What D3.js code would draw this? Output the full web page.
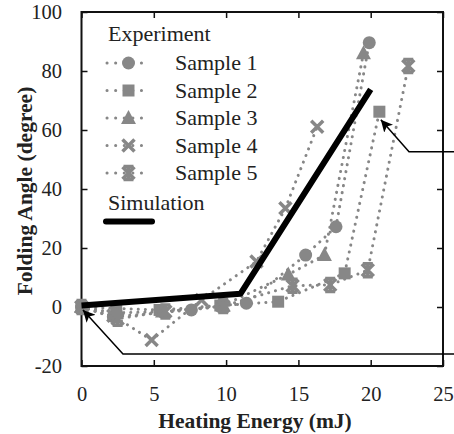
<!DOCTYPE html>
<html>
<head>
<meta charset="utf-8">
<script src="https://cdn.jsdelivr.net/npm/d3@7"></script>
<style>
  body { margin: 0; background: #fff; }
  svg { display: block; }
</style>
</head>
<body>
<script>
// data: [heating energy (mJ), folding angle (deg)]
var sample1 = [[0,0],[2.2,-3.3],[7.6,-1],[11.4,1.3],[15.5,17.6],[17.6,27.2],[19.9,89.6]];
var sample2 = [[0,0],[2.4,-0.5],[5.4,-1],[9.6,0.5],[13.6,1.8],[18.2,11.4],[20.6,66.2]];
var sample3 = [[0,0],[2.3,-2],[5.6,-1.5],[9.8,0.5],[14.3,11],[16.8,17.6],[19.5,86]];
var sample4 = [[0,0],[2.2,-3],[4.85,-11.2],[8.3,2.4],[12.1,15.4],[14.1,33.5],[16.3,61.1]];
var sample5 = [[0,0],[2.5,-4],[5.8,-1.5],[9.8,0.3],[14.6,7.2],[17.2,7.5],[19.8,12.5],[22.6,81.7]];
var simulation = [[0,0.5],[11,4.5],[20,73.8]];

var sampleNames = ["Sample 1","Sample 2","Sample 3","Sample 4","Sample 5"];
var markers = ["circle","square","triangle","cross","star"];
var xTicks = [0,5,10,15,20,25];
var yTicks = [-20,0,20,40,60,80,100];

// annotation arrows (data coords), tip first
var arrow1 = [[20.7,63.5],[22.65,52.6],[26.5,52.6]];
var arrow2 = [[0.1,-1],[2.87,-15.9],[26.5,-15.9]];

var W = 454, H = 434;
var grey = "#878787";
var FONT = "Liberation Serif";

var svg = d3.select("body").append("svg")
    .attr("width", W)
    .attr("height", H)
    .attr("font-family", FONT);

var x = d3.scaleLinear().domain([0,25]).range([81.5,443]);
var y = d3.scaleLinear().domain([-20,100]).range([366,12]);

var plain = function(d){ return String(d); };   // keep a hyphen for -20

//axes, ticks pointing inward
svg.append("g")
    .attr("transform","translate(0,366)")
    .call(d3.axisBottom(x).tickValues(xTicks).tickSize(-6).tickPadding(20).tickFormat(plain))
    .call(function(g){ g.select(".domain").remove(); });
svg.append("g")
    .attr("transform","translate(0,12)")
    .call(d3.axisTop(x).tickValues(xTicks).tickSize(-6).tickFormat(""))
    .call(function(g){ g.select(".domain").remove(); });
svg.append("g")
    .attr("transform","translate(81.5,0)")
    .call(d3.axisLeft(y).tickValues(yTicks).tickSize(-6).tickPadding(19.5).tickFormat(plain))
    .call(function(g){ g.select(".domain").remove(); });
svg.append("g")
    .attr("transform","translate(443,0)")
    .call(d3.axisRight(y).tickValues(yTicks).tickSize(-6).tickFormat(""))
    .call(function(g){ g.select(".domain").remove(); });

svg.selectAll("g").attr("font-family", FONT).attr("font-size", null);
svg.selectAll(".tick line").attr("stroke","#111").attr("stroke-width",1.5);
svg.selectAll(".tick text")
    .attr("font-family", FONT)
    .attr("font-size", 20.5)
    .attr("fill","#222");

//frame
svg.append("rect")
    .attr("x",x(0)).attr("y",y(100))
    .attr("width",x(25)-x(0)).attr("height",y(-20)-y(100))
    .attr("fill","none").attr("stroke","#111").attr("stroke-width",2);

//axis titles
svg.append("text")
    .attr("x",255).attr("y",428)
    .attr("text-anchor","middle")
    .attr("font-family", FONT)
    .attr("font-size",21.5).attr("font-weight","bold")
    .attr("fill","#222")
    .text("Heating Energy (mJ)");
svg.append("text")
    .attr("transform","translate(32,191) rotate(-90)")
    .attr("text-anchor","middle")
    .attr("font-family", FONT)
    .attr("font-size",21.5).attr("font-weight","bold")
    .attr("fill","#222")
    .text("Folding Angle (degree)");

//marker shapes
function drawMarker(g, type) {
    if (type == "circle") {
        g.append("circle").attr("r",6.5).attr("fill",grey);
    } else if (type == "square") {
        g.append("rect").attr("x",-6).attr("y",-6).attr("width",12).attr("height",12).attr("fill",grey);
    } else if (type == "triangle") {
        g.append("path").attr("d","M0,-8L7.5,6L-7.5,6Z").attr("fill",grey);
    } else if (type == "cross") {
        g.append("path").attr("d","M-6,-6L6,6M6,-6L-6,6")
            .attr("stroke",grey).attr("stroke-width",3.5).attr("fill","none");
    } else {
        g.append("path").attr("d","M-6,-6L6,6M6,-6L-6,6M0,-7L0,7M-5,-6.5L5,-6.5M-5,6.5L5,6.5")
            .attr("stroke",grey).attr("stroke-width",3.5).attr("fill","none");
    }
}

var line = d3.line()
    .x(function(d){ return x(d[0]); })
    .y(function(d){ return y(d[1]); });

var samples = [sample1, sample2, sample3, sample4, sample5];

//dotted lines first
samples.forEach(function(s){
    svg.append("path")
        .attr("d", line(s))
        .attr("fill","none")
        .attr("stroke",grey)
        .attr("stroke-width",3)
        .attr("stroke-linecap","round")
        .attr("stroke-dasharray","0.1 7");
});

//markers
samples.forEach(function(s, i){
    svg.selectAll(".m"+i)
        .data(s)
        .enter().append("g")
        .attr("class","m"+i)
        .attr("transform", function(d){ return "translate(" + x(d[0]) + "," + y(d[1]) + ")"; })
        .each(function(){ drawMarker(d3.select(this), markers[i]); });
});

//simulation line
svg.append("path")
    .attr("d", line(simulation))
    .attr("fill","none")
    .attr("stroke","#000")
    .attr("stroke-width",6)
    .attr("stroke-linejoin","round");

//annotation arrows
var defs = svg.append("defs");
defs.append("marker")
    .attr("id","head")
    .attr("viewBox","0 0 10 10")
    .attr("refX",10).attr("refY",5)
    .attr("markerWidth",12).attr("markerHeight",12)
    .attr("markerUnits","userSpaceOnUse")
    .attr("orient","auto")
    .append("path").attr("d","M0,0L10,5L0,10L2.5,5Z").attr("fill","#000");

[arrow1, arrow2].forEach(function(a){
    svg.append("path")
        .attr("d", line(a.slice().reverse()))
        .attr("fill","none")
        .attr("stroke","#000")
        .attr("stroke-width",1.5)
        .attr("marker-end","url(#head)");
});

//legend
var legend = svg.append("g");
legend.append("text")
    .attr("x",108).attr("y",41)
    .attr("font-family", FONT).attr("font-size",22).attr("fill","#222")
    .text("Experiment");

var rowY = [63, 90.5, 118, 145.5, 173];
sampleNames.forEach(function(name, i){
    legend.append("line")
        .attr("x1",107).attr("x2",150)
        .attr("y1",rowY[i]).attr("y2",rowY[i])
        .attr("stroke",grey).attr("stroke-width",3)
        .attr("stroke-linecap","round")
        .attr("stroke-dasharray","0.1 8.5");
    drawMarker(legend.append("g").attr("transform","translate(128.5," + rowY[i] + ")"), markers[i]);
    legend.append("text")
        .attr("x",175).attr("y",rowY[i] + 7)
        .attr("font-family", FONT).attr("font-size",22).attr("fill","#222")
        .text(name);
});

legend.append("text")
    .attr("x",108).attr("y",210)
    .attr("font-family", FONT).attr("font-size",22).attr("fill","#222")
    .text("Simulation");
legend.append("line")
    .attr("x1",106).attr("x2",152)
    .attr("y1",221.5).attr("y2",221.5)
    .attr("stroke","#000").attr("stroke-width",6)
    .attr("stroke-linecap","round");
</script>
</body>
</html>
